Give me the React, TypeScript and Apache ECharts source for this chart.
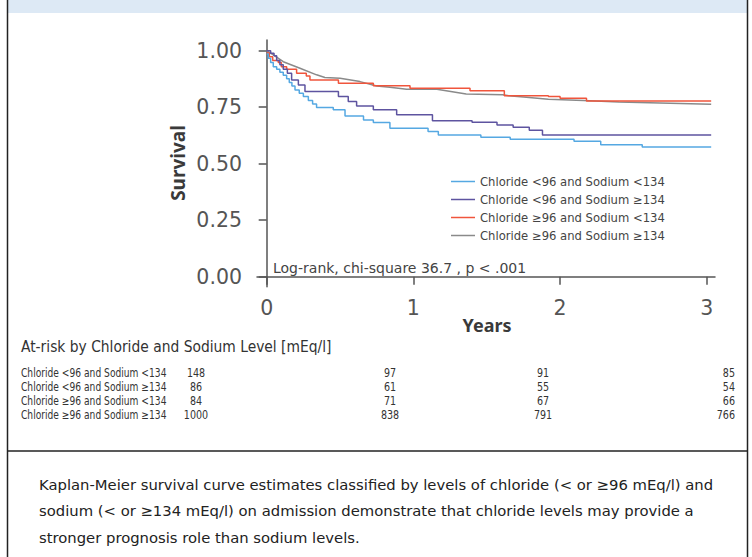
import React, { useEffect, useRef } from "react";
import * as echarts from "echarts";

const seriesNames = [
  "Chloride <96 and Sodium <134",
  "Chloride <96 and Sodium ≥134",
  "Chloride ≥96 and Sodium <134",
  "Chloride ≥96 and Sodium ≥134",
];
const seriesColors = ["#55a8e2", "#5e54a0", "#f0553c", "#8a8a8a"];

// Chloride <96 and Sodium <134 (step)
const blueT = [0, 0.011, 0.027, 0.045, 0.068, 0.09, 0.113, 0.136, 0.154, 0.172, 0.193, 0.222, 0.25, 0.284, 0.313, 0.34, 0.454, 0.534, 0.66, 0.727, 0.84, 1.1, 1.17, 1.46, 1.66, 2.095, 2.277, 2.56, 3.03];
const blueV = [0.985, 0.966, 0.947, 0.929, 0.918, 0.904, 0.891, 0.876, 0.859, 0.844, 0.826, 0.812, 0.797, 0.779, 0.764, 0.748, 0.738, 0.711, 0.693, 0.682, 0.657, 0.642, 0.627, 0.617, 0.608, 0.599, 0.584, 0.574, 0.574];

// Chloride <96 and Sodium >=134 (step)
const purpleT = [0, 0.027, 0.05, 0.068, 0.09, 0.113, 0.141, 0.17, 0.216, 0.261, 0.489, 0.556, 0.613, 0.727, 0.886, 1.13, 1.4, 1.57, 1.68, 1.79, 1.88, 3.03];
const purpleV = [1.0, 0.988, 0.977, 0.956, 0.937, 0.918, 0.9, 0.87, 0.848, 0.819, 0.797, 0.775, 0.755, 0.738, 0.716, 0.69, 0.683, 0.671, 0.661, 0.648, 0.627, 0.627];

// Chloride >=96 and Sodium <134 (step)
const redT = [0, 0.018, 0.041, 0.079, 0.1, 0.136, 0.204, 0.27, 0.295, 0.489, 0.727, 0.977, 1.386, 1.62, 1.92, 2.0, 2.18, 3.03];
const redV = [0.99, 0.973, 0.956, 0.947, 0.929, 0.918, 0.9, 0.888, 0.87, 0.856, 0.845, 0.834, 0.823, 0.801, 0.797, 0.789, 0.777, 0.777];

// Chloride >=96 and Sodium >=134 (dense steps, drawn as a line)
const grayT = [0, 0.045, 0.113, 0.227, 0.34, 0.397, 0.5, 0.636, 0.75, 0.84, 0.954, 1.16, 1.36, 1.61, 1.65, 1.77, 1.92, 2.16, 2.4, 3.03];
const grayV = [1.0, 0.981, 0.951, 0.922, 0.893, 0.881, 0.878, 0.863, 0.844, 0.838, 0.829, 0.829, 0.808, 0.805, 0.8, 0.794, 0.785, 0.779, 0.773, 0.763];

const xTicks = [0, 1, 2, 3];
const yTicks = [0, 0.25, 0.5, 0.75, 1];

const riskTitle = "At-risk by Chloride and Sodium Level [mEq/l]";
const riskRowLabels = seriesNames;
const riskCounts = [
  [148, 97, 91, 85],
  [86, 61, 55, 54],
  [84, 71, 67, 66],
  [1000, 838, 791, 766],
];

const captionLines = [
  "Kaplan-Meier survival curve estimates classified by levels of chloride (< or ≥96 mEq/l) and",
  "sodium (< or ≥134 mEq/l) on admission demonstrate that chloride levels may provide a",
  "stronger prognosis role than sodium levels.",
];
const logRankText = "Log-rank, chi-square 36.7 , p < .001";

const FONT = "'DejaVu Sans', 'Noto Sans', sans-serif";
const NOTO = "'Noto Sans', 'Open Sans', sans-serif";
const COND = "'DejaVu Sans Condensed', 'Roboto', sans-serif";

function zip(t: number[], v: number[]) {
  return t.map((x, i) => [x, v[i]]);
}

export default function App() {
  const ref = useRef<HTMLDivElement>(null);
  useEffect(() => {
    if (!ref.current) return;
    const chart = echarts.init(ref.current, undefined, { renderer: "svg" });
    const data = [zip(blueT, blueV), zip(purpleT, purpleV), zip(redT, redV), zip(grayT, grayV)];

    const colCenters = [196, 390, 543, 728];
    const rowY = [373, 387, 401, 415];
    const graphic: any[] = [
      { type: "rect", shape: { x: 8, y: 0, width: 739, height: 13 }, style: { fill: "#dde9f5" }, silent: true },
      { type: "line", shape: { x1: 7.5, y1: 0, x2: 7.5, y2: 557 }, style: { stroke: "#222", lineWidth: 1.5 } },
      { type: "line", shape: { x1: 747.5, y1: 0, x2: 747.5, y2: 557 }, style: { stroke: "#222", lineWidth: 1.5 } },
      { type: "line", shape: { x1: 7.5, y1: 451, x2: 747.5, y2: 451 }, style: { stroke: "#222", lineWidth: 1.5 } },
      {
        type: "text", x: 178, y: 163, rotation: Math.PI / 2,
        style: { text: "Survival", fontSize: 19, fontWeight: "bold", fill: "#3a3a3a", fontFamily: NOTO, align: "center", verticalAlign: "middle" },
      },
      {
        type: "text", x: 487, y: 325,
        style: { text: "Years", fontSize: 18, fontWeight: "bold", fill: "#3a3a3a", fontFamily: NOTO, align: "center", verticalAlign: "middle" },
      },
      {
        type: "text", x: 273, y: 268,
        style: { text: logRankText, fontSize: 14, fill: "#444", fontFamily: FONT, align: "left", verticalAlign: "middle" },
      },
      {
        type: "text", x: 21, y: 347,
        style: { text: riskTitle, fontSize: 15.4, fill: "#333", fontFamily: COND, align: "left", verticalAlign: "middle" },
      },
    ];
    riskRowLabels.forEach((lab, r) => {
      graphic.push({
        type: "text", x: 21, y: rowY[r], scaleX: 0.86,
        style: { text: lab, fontSize: 11.8, fill: "#333", fontFamily: COND, align: "left", verticalAlign: "middle" },
      });
      riskCounts[r].forEach((n, c) => {
        graphic.push({
          type: "text", x: c === 3 ? 735 : colCenters[c], y: rowY[r], scaleX: 0.9,
          style: { text: String(n), fontSize: 11.8, fill: "#333", fontFamily: COND, align: c === 3 ? "right" : "center", verticalAlign: "middle" },
        });
      });
    });
    captionLines.forEach((line, i) => {
      graphic.push({
        type: "text", x: 39, y: 484 + i * 26.5,
        style: { text: line, fontSize: 14.8, fill: "#222", fontFamily: FONT, align: "left", verticalAlign: "middle" },
      });
    });

    chart.setOption({
      animation: false,
      backgroundColor: "#ffffff",
      grid: { left: 257, right: 37, top: 40, bottom: 270.3, containLabel: false },
      xAxis: {
        type: "value", min: -0.066, max: 3.056,
        axisLine: { show: true, lineStyle: { color: "#555", width: 1.5 } },
        axisTick: { show: true, customValues: xTicks, length: 8, lineStyle: { color: "#555", width: 1.5 } },
        axisLabel: { customValues: xTicks, margin: 11, fontSize: 20.5, color: "#555", fontFamily: FONT, formatter: (v: number) => String(v) },
        splitLine: { show: false },
      },
      yAxis: {
        type: "value", min: -0.044, max: 1.047,
        axisLine: { show: true, lineStyle: { color: "#555", width: 1.5 } },
        axisTick: { show: true, customValues: yTicks, length: 8, lineStyle: { color: "#555", width: 1.5 } },
        axisLabel: { customValues: yTicks, margin: 15, fontSize: 20.5, color: "#555", fontFamily: FONT, formatter: (v: number) => v.toFixed(2) },
        splitLine: { show: false },
      },
      legend: {
        data: seriesNames, orient: "vertical", left: 446, top: 170.5,
        icon: "rect", itemWidth: 24, itemHeight: 1.5, itemGap: 6,
        textStyle: { fontSize: 11.6, color: "#444", fontFamily: FONT },
      },
      series: seriesNames.map((name, i) => ({
        name, type: "line", data: data[i], step: i === 3 ? false : "end",
        showSymbol: false, symbol: "none",
        lineStyle: { color: seriesColors[i], width: 1.5 },
        itemStyle: { color: seriesColors[i] },
        z: i === 3 ? 1 : 2 + (3 - i),
      })),
      graphic,
    });
    return () => chart.dispose();
  }, []);
  return <div ref={ref} style={{ position: "absolute", left: 0, top: 0, width: 752, height: 557 }} />;
}
